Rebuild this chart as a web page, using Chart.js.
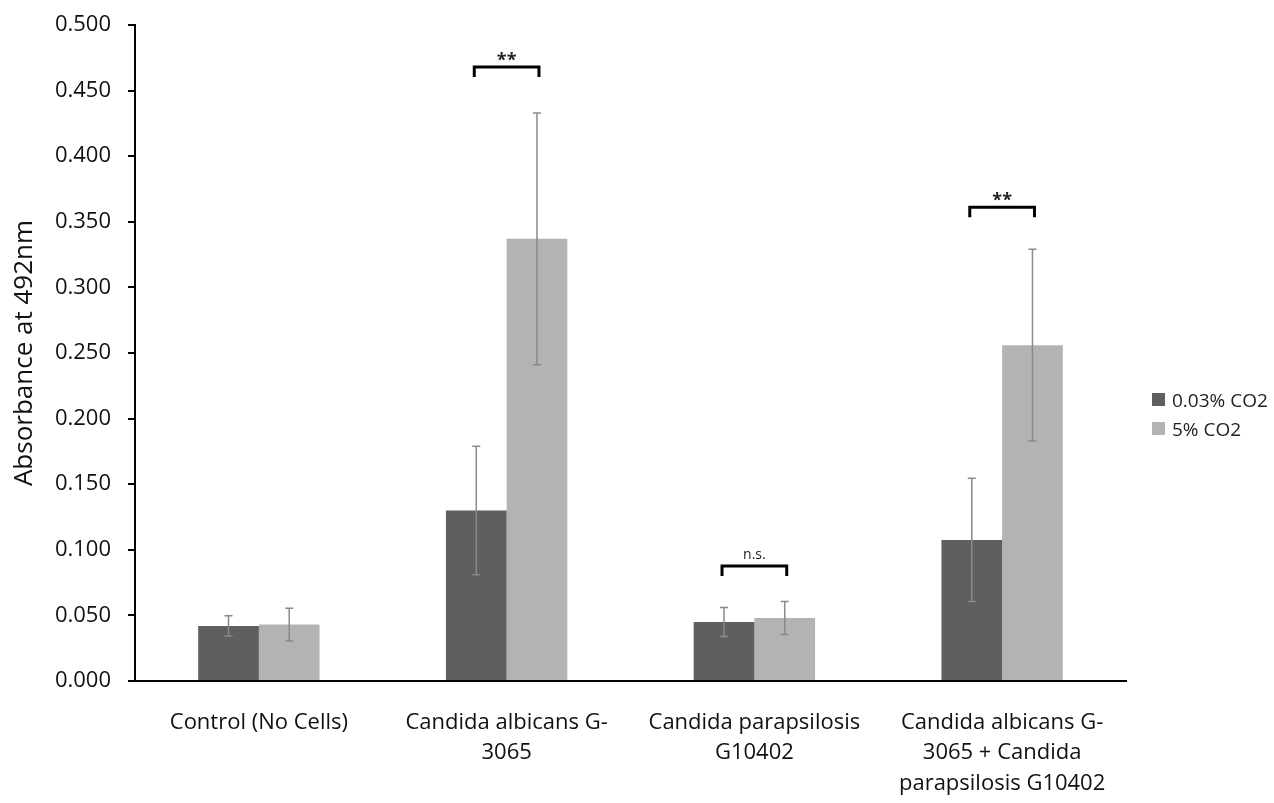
<!DOCTYPE html>
<html><head><meta charset="utf-8">
<script src="https://cdn.jsdelivr.net/npm/chart.js@4"></script>
<style>
html,body{margin:0;padding:0;background:#fff;}
#wrap{position:relative;width:1274px;height:803px;}
#legend{position:absolute;left:1152px;top:385px;font-family:"Open Sans",sans-serif;font-size:19px;color:#222;white-space:nowrap;}
#legend div{display:flex;align-items:center;height:29px;}
#legend span.b{display:inline-block;width:13px;height:13px;margin-right:7px;}
</style></head>
<body><div id="wrap"><canvas id="c" width="1274" height="803"></canvas>
<div id="legend"></div></div>
<script>
const categories = [["Control (No Cells)"],["Candida albicans G-","3065"],["Candida parapsilosis","G10402"],["Candida albicans G-","3065 + Candida","parapsilosis G10402"]];
const seriesNames = ["0.03% CO2","5% CO2"];
const low = [0.042, 0.130, 0.045, 0.1075];
const lowErr = [0.0077, 0.049, 0.011, 0.047];
const high = [0.043, 0.337, 0.048, 0.256];
const highErr = [0.0125, 0.096, 0.0125, 0.073];
const colors = ["#5f5f5f","#b3b3b3"];
const yTicks = [0,0.05,0.1,0.15,0.2,0.25,0.3,0.35,0.4,0.45,0.5];
const sig = [{cat:1,y:0.468,label:"**"},{cat:2,y:0.0877,label:"n.s."},{cat:3,y:0.361,label:"**"}];

const errPlugin = {
  id:'err',
  afterDatasetsDraw(chart){
    const ctx=chart.ctx, ys=chart.scales.y;
    const errs=[lowErr,highErr];
    chart.data.datasets.forEach((ds,di)=>{
      const meta=chart.getDatasetMeta(di);
      meta.data.forEach((bar,i)=>{
        const v=ds.data[i], e=errs[di][i];
        const t=ys.getPixelForValue(v+e), b=ys.getPixelForValue(v-e);
        ctx.save();ctx.strokeStyle='#8a8a8a';ctx.lineWidth=1.5;
        ctx.beginPath();ctx.moveTo(bar.x,t);ctx.lineTo(bar.x,b);
        ctx.moveTo(bar.x-4,t);ctx.lineTo(bar.x+4,t);
        ctx.moveTo(bar.x-4,b);ctx.lineTo(bar.x+4,b);ctx.stroke();ctx.restore();
      });
    });
    const m0=chart.getDatasetMeta(0), m1=chart.getDatasetMeta(1);
    sig.forEach(s=>{
      const x0=m0.data[s.cat].x-2, x1=m1.data[s.cat].x+2, y=ys.getPixelForValue(s.y);
      ctx.save();ctx.strokeStyle='#000';ctx.lineWidth=3;
      ctx.beginPath();ctx.moveTo(x0,y+10);ctx.lineTo(x0,y);ctx.lineTo(x1,y);ctx.lineTo(x1,y+10);ctx.stroke();
      ctx.fillStyle='#222';ctx.textAlign='center';ctx.textBaseline='bottom';
      if(s.label==='**'){ctx.font='bold 18px "Open Sans", sans-serif';ctx.fillText(s.label,(x0+x1)/2,y+3);}
      else {ctx.font='14px "Open Sans", sans-serif';ctx.fillText(s.label,(x0+x1)/2,y-4);}
      ctx.restore();
    });
  }
};

new Chart(document.getElementById('c'),{
  type:'bar',
  data:{labels:categories,datasets:[
    {label:seriesNames[0],data:low,backgroundColor:colors[0]},
    {label:seriesNames[1],data:high,backgroundColor:colors[1]}
  ]},
  options:{
    responsive:false,animation:false,
    layout:{padding:{top:25,right:148,left:0,bottom:0}},
    plugins:{legend:{display:false},tooltip:{enabled:false}},
    datasets:{bar:{categoryPercentage:0.49,barPercentage:1}},
    scales:{
      x:{grid:{display:false},border:{color:'#000',width:2},
         ticks:{color:'#111',font:{family:'"Open Sans", sans-serif',size:22,lineHeight:1.4},padding:18,maxRotation:0,autoSkip:false},
         afterFit(s){s.height=122;}},
      y:{min:0,max:0.5,afterBuildTicks(s){s.ticks=yTicks.map(v=>({value:v}));},
         grid:{drawOnChartArea:false,drawTicks:true,tickLength:7,color:'#000',lineWidth:2},
         border:{color:'#000',width:2},
         ticks:{color:'#111',font:{family:'"Open Sans", sans-serif',size:22},padding:17,callback:v=>Number(v).toFixed(3)},
         title:{display:true,text:'Absorbance at 492nm',color:'#111',font:{family:'"Open Sans", sans-serif',size:26},padding:{top:9,bottom:4}},
         afterFit(s){s.width=135;s.paddingTop=12;s.paddingBottom=12;}}
    }
  },
  plugins:[errPlugin]
});
const lg=document.getElementById('legend');
seriesNames.forEach((n,i)=>{const d=document.createElement('div');d.innerHTML='<span class="b" style="background:'+colors[i]+'"></span>'+n;lg.appendChild(d);});
</script></body></html>
